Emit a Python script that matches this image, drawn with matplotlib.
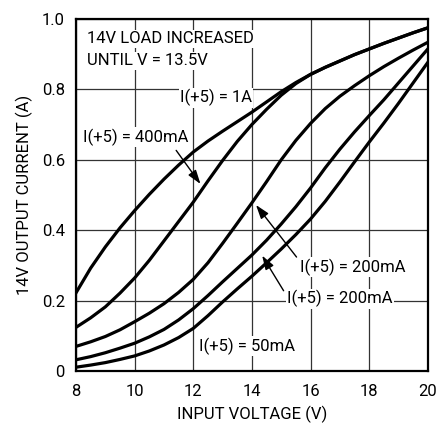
import matplotlib
matplotlib.use("Agg")
import matplotlib.pyplot as plt
from matplotlib import font_manager

# input voltage (V)
volts = [8, 8.5, 9, 9.5, 10, 10.5, 11, 11.5, 12, 12.5, 13, 13.5, 14,
         14.5, 15, 15.5, 16, 16.5, 17, 17.5, 18, 18.5, 19, 19.5, 20]

# 14V output current (A) for each I(+5) load
i_1a = [0.223, 0.293, 0.353, 0.407, 0.456, 0.502, 0.545, 0.585, 0.622, 0.653, 0.681, 0.708, 0.735,
        0.764, 0.793, 0.819, 0.842, 0.862, 0.88, 0.898, 0.914, 0.93, 0.945, 0.96, 0.974]
i_400ma = [0.125, 0.152, 0.183, 0.222, 0.265, 0.315, 0.37, 0.425, 0.48, 0.54, 0.598, 0.652, 0.70,
           0.743, 0.783, 0.816, 0.842, 0.862, 0.88, 0.898, 0.914, 0.93, 0.945, 0.96, 0.974]
i_200ma_a = [0.071, 0.084, 0.099, 0.118, 0.141, 0.165, 0.192, 0.224, 0.261, 0.308, 0.363, 0.42, 0.478,
             0.538, 0.6, 0.655, 0.703, 0.745, 0.78, 0.81, 0.838, 0.864, 0.888, 0.911, 0.933]
i_200ma_b = [0.033, 0.042, 0.053, 0.066, 0.08, 0.098, 0.119, 0.146, 0.178, 0.215, 0.254, 0.292, 0.33,
             0.372, 0.418, 0.467, 0.52, 0.577, 0.63, 0.679, 0.725, 0.77, 0.818, 0.866, 0.914]
i_50ma = [0.012, 0.018, 0.025, 0.034, 0.044, 0.058, 0.075, 0.096, 0.122, 0.158, 0.197, 0.234, 0.27,
          0.308, 0.347, 0.388, 0.432, 0.482, 0.537, 0.594, 0.65, 0.704, 0.76, 0.818, 0.876]

x_ticks = [8, 10, 12, 14, 16, 18, 20]
y_ticks = [0, 0.2, 0.4, 0.6, 0.8, 1.0]
y_tick_labels = ["0", "0.2", "0.4", "0.6", "0.8", "1.0"]

names = {f.name for f in font_manager.fontManager.ttflist}
if "Liberation Sans Narrow" in names:
    plt.rcParams["font.family"] = ["Liberation Sans Narrow", "DejaVu Sans"]
else:
    plt.rcParams["font.family"] = ["Roboto", "DejaVu Sans"]
plt.rcParams["font.size"] = 12

fig = plt.figure(figsize=(4.37, 4.24), dpi=100)
ax = fig.add_axes([0.174, 0.124, 0.805, 0.832])

for curve in [i_1a, i_400ma, i_200ma_a, i_200ma_b, i_50ma]:
    ax.plot(volts, curve, color="black", lw=2.3, solid_joinstyle="round", zorder=3)

ax.set_xlim(8, 20)
ax.set_ylim(0, 1.0)
ax.set_xticks(x_ticks)
ax.set_yticks(y_ticks)
ax.set_yticklabels(y_tick_labels)
ax.tick_params(axis="y", length=0, pad=8, labelsize=12)
ax.tick_params(axis="x", length=0, pad=9, labelsize=12)
ax.grid(True, color="#333333", lw=0.9, zorder=1)
for s in ax.spines.values():
    s.set_linewidth(1.6)

ax.set_xlabel("INPUT VOLTAGE (V)", fontsize=12, labelpad=5)
ax.set_ylabel("14V OUTPUT CURRENT (A)", fontsize=12, labelpad=6)

box = dict(facecolor="white", edgecolor="none", pad=1.0)
tx = dict(fontsize=12, va="center", ha="left", bbox=box, zorder=4)
ax.text(8.38, 0.943, "14V LOAD INCREASED", **tx)
ax.text(8.38, 0.880, "UNTIL V = 13.5V", **tx)
ax.text(11.55, 0.776, "I(+5) = 1A", **tx)
ax.text(8.25, 0.664, "I(+5) = 400mA", **tx)
ax.text(15.65, 0.295, "I(+5) = 200mA", **tx)
ax.text(15.2, 0.206, "I(+5) = 200mA", **tx)
ax.text(12.2, 0.072, "I(+5) = 50mA", **tx)

arrow = dict(arrowstyle="-|>,head_length=0.6,head_width=0.2", color="black", lw=1.0, mutation_scale=14)
ax.annotate("", xy=(12.3, 0.525), xytext=(11.36, 0.633), arrowprops=arrow, zorder=5)
ax.annotate("", xy=(14.08, 0.478), xytext=(15.58, 0.318), arrowprops=arrow, zorder=5)
ax.annotate("", xy=(14.3, 0.335), xytext=(15.13, 0.222), arrowprops=arrow, zorder=5)

fig.savefig("out.png", dpi=100)
plt.close(fig)
